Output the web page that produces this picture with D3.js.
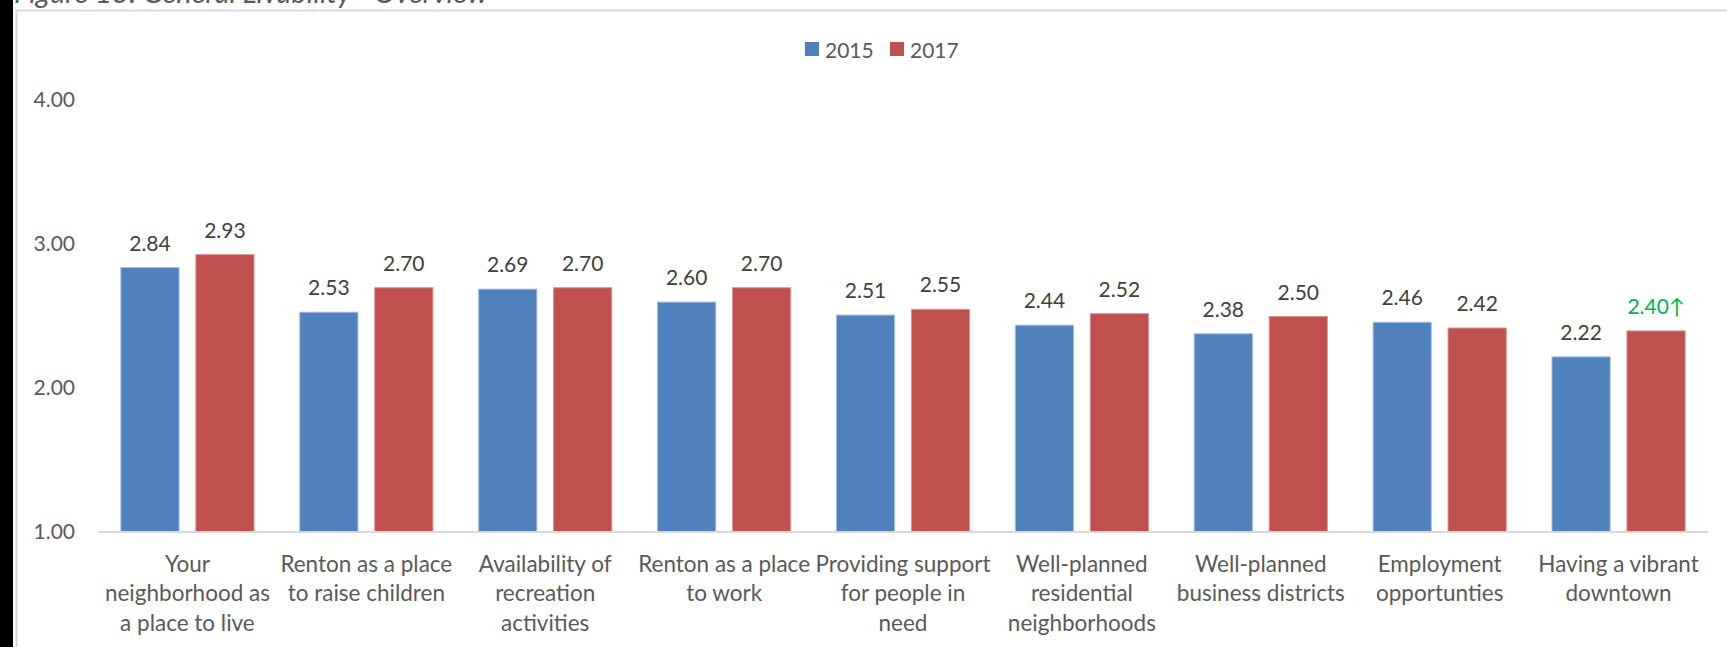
<!DOCTYPE html>
<html><head><meta charset="utf-8">
<script src="https://cdn.jsdelivr.net/npm/d3@7"></script>
<style>
html,body{margin:0;padding:0;background:#fff;overflow:hidden;}
svg{display:block;font-family:Lato, "Open Sans", sans-serif;}
</style></head>
<body>
<svg id="chart" width="1727" height="647"></svg>
<script>
const categories = [
  ["Your","neighborhood as","a place to live"],
  ["Renton as a place","to raise children"],
  ["Availability of","recreation","activities"],
  ["Renton as a place","to work"],
  ["Providing support","for people in","need"],
  ["Well-planned","residential","neighborhoods"],
  ["Well-planned","business districts"],
  ["Employment","opportunties"],
  ["Having a vibrant","downtown"]
];
const seriesNames = ["2015","2017"];
const values2015 = [2.84,2.53,2.69,2.60,2.51,2.44,2.38,2.46,2.22];
const values2017 = [2.93,2.70,2.70,2.70,2.55,2.52,2.50,2.42,2.40];
const yTicks = [1,2,3,4];
const colors = ["#4F81BD","#C0504D"];
const edgeColors = ["#A7BFDE","#D99694"];

(function(){
const svg = d3.select("#chart");
const W = 1727, H = 647;
const pLeft = 98, pRight = 1708, pTop = 100, pBottom = 532;

// page frame
svg.append("path").attr("d",`M16.5,${H} V10.5 H${W}`).attr("fill","none").attr("stroke","#D9D9D9").attr("stroke-width",2);
svg.append("text").attr("x",14).attr("y",3).attr("font-style","italic").attr("font-size",29)
  .attr("fill","#595959").text("Figure 13: General Livability - Overview");
svg.append("rect").attr("x",0).attr("y",0).attr("width",13).attr("height",H).attr("fill","#000");

const catIdx = categories.map((c,i)=>i);
const x0 = d3.scaleBand().domain(catIdx).range([pLeft,pRight]).paddingInner(0.25).paddingOuter(0.125);
const x1 = d3.scaleBand().domain(seriesNames).range([0,x0.bandwidth()]).paddingInner(0.21);
const y = d3.scaleLinear().domain([1,4]).range([pBottom,pTop]);

// y axis labels
const yAxis = d3.axisLeft(y).tickValues(yTicks).tickFormat(d3.format(".2f")).tickSize(0).tickPadding(0);
const ya = svg.append("g").attr("transform","translate(75,0)").call(yAxis);
ya.select(".domain").remove();
ya.selectAll("text").attr("font-size",21).attr("fill","#595959").attr("font-family","Lato, sans-serif");

const data = catIdx.map(i=>({i, vals:[values2015[i],values2017[i]]}));
const g = svg.append("g");
data.forEach(d=>{
  d.vals.forEach((v,k)=>{
    const bx = x0(d.i)+x1(seriesNames[k]);
    g.append("rect").attr("x",bx+0.5).attr("y",y(v)+0.5).attr("width",x1.bandwidth()-1).attr("height",y(1)-y(v)-1)
      .attr("fill",colors[k]).attr("stroke",edgeColors[k]).attr("stroke-width",1);
    const last = (d.i===categories.length-1 && k===1);
    g.append("text").attr("x",bx+x1.bandwidth()/2).attr("y",y(v)-25)
      .attr("text-anchor","middle").attr("dominant-baseline","central")
      .attr("font-size",21).attr("fill", last?"#00B050":"#404040")
      .text(v.toFixed(2)+(last?"\u2191":""));
  });
});

// x axis
const xAxis = d3.axisBottom(x0).tickSize(0).tickFormat("");
const xa = svg.append("g").attr("transform",`translate(0,${pBottom})`).call(xAxis);
xa.select(".domain").attr("stroke","#D9D9D9").attr("stroke-width",2).attr("d",`M${pLeft},0H${pRight}`);
catIdx.forEach(i=>{
  const t = svg.append("text").attr("x",x0(i)+x0.bandwidth()/2).attr("text-anchor","middle")
    .attr("font-size",22.5).attr("fill","#595959");
  categories[i].forEach((line,j)=>{
    t.append("tspan").attr("x",x0(i)+x0.bandwidth()/2).attr("y",563+j*29.5).attr("dominant-baseline","central").text(line);
  });
});

// legend
const leg = svg.append("g");
const legX = [805,890];
seriesNames.forEach((s,k)=>{
  leg.append("rect").attr("x",legX[k]).attr("y",42).attr("width",14).attr("height",14).attr("fill",colors[k]);
  leg.append("text").attr("x",legX[k]+20).attr("y",49).attr("dominant-baseline","central")
    .attr("font-size",21).attr("fill","#595959").text(s);
});
})();
</script>
</body></html>
